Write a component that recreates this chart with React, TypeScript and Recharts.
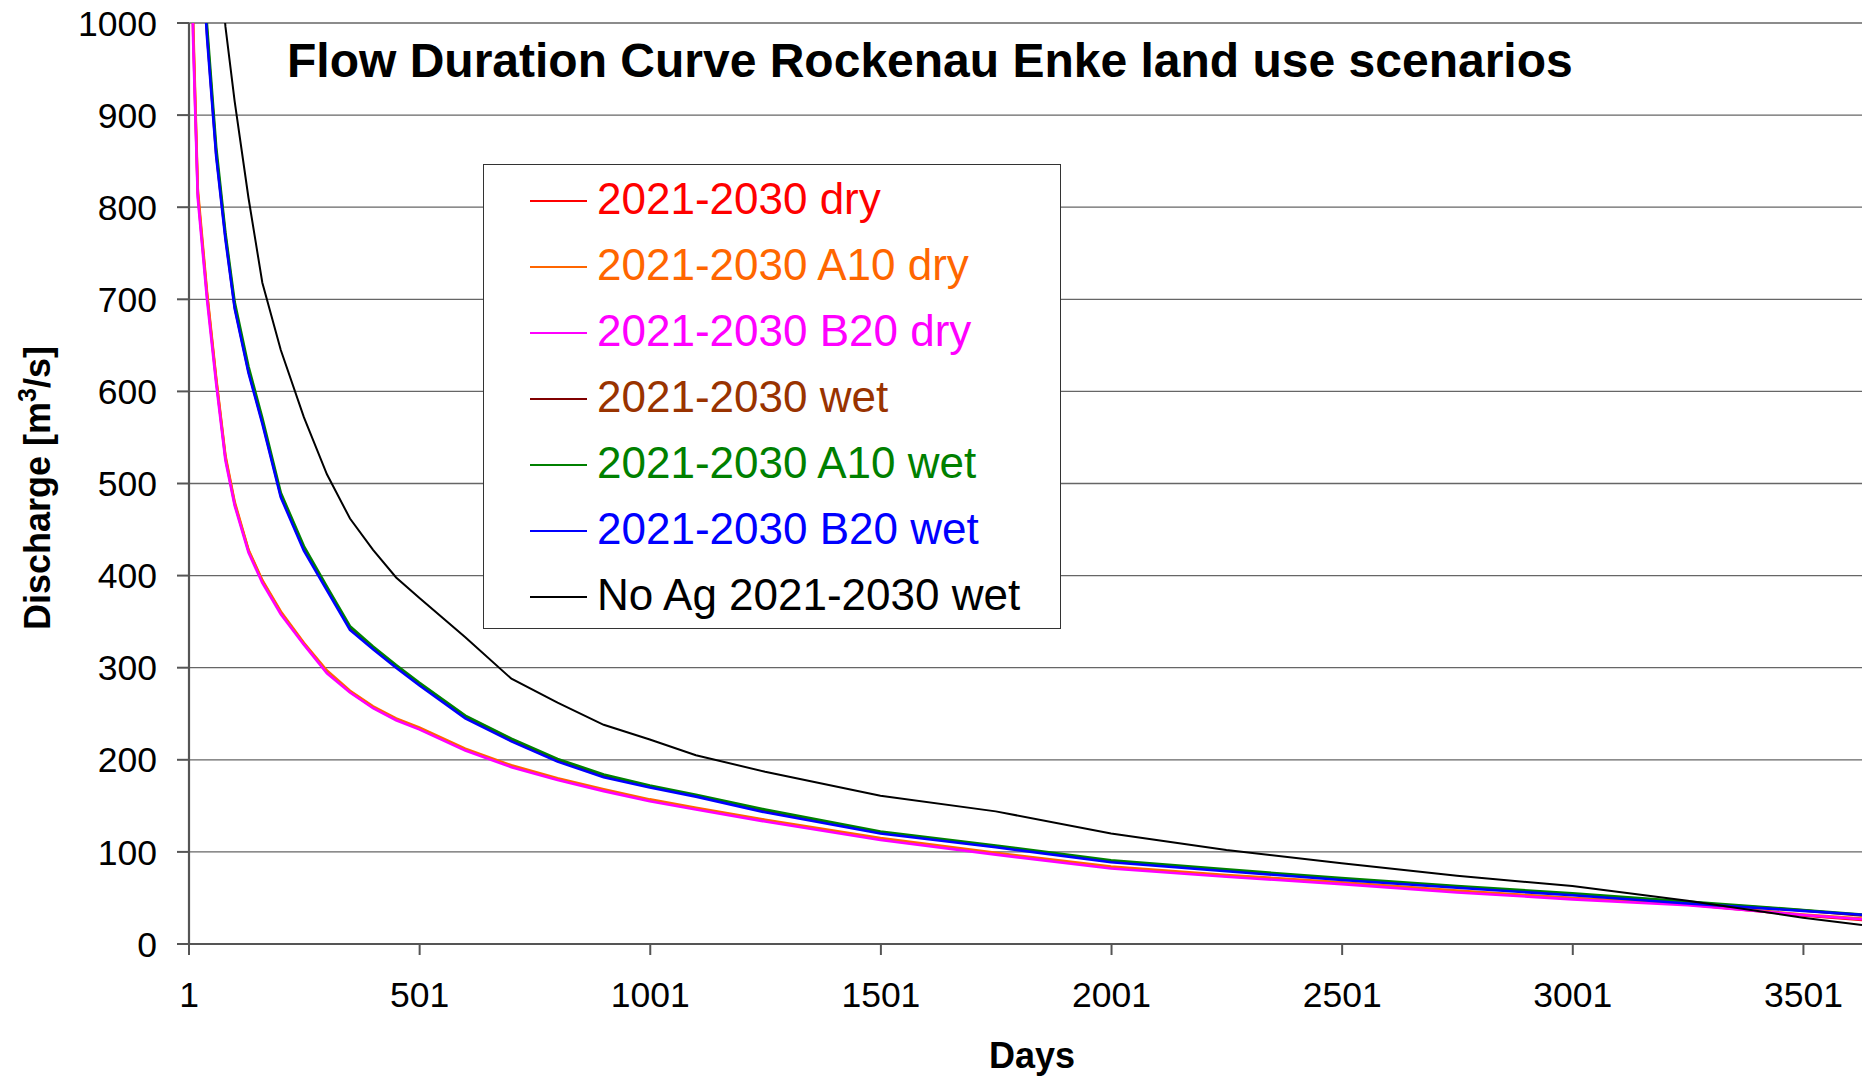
import React from 'react';
import { LineChart, Line, XAxis, YAxis, CartesianGrid, Legend, Customized } from 'recharts';

const days = [1, 10, 20, 40, 60, 80, 100, 130, 160, 200, 250, 300, 350, 400, 450, 500, 600, 700, 800, 900, 1000, 1100, 1250, 1500, 1750, 2000, 2250, 2500, 2750, 3000, 3250, 3500, 3628];

const dry = [1270, 990, 815, 705, 612, 528, 478, 427, 394, 360, 326, 296, 274, 257, 244, 234, 211, 193, 179, 167, 156, 147, 134, 114, 98, 83, 74, 66, 57, 49.5, 43, 31, 26];
const a10Dry = [1290, 1000, 820, 708, 614, 530, 480, 428, 395, 361, 327, 297, 275, 258, 245, 235, 212, 194, 180, 168, 157, 148, 135, 115, 99, 84, 75, 67, 58, 50, 43.5, 32, 27.5];
const b20Dry = [1250, 980, 810, 700, 608, 525, 476, 425, 392, 358, 325, 294, 273, 256, 243, 233, 210, 192, 178, 166, 155, 146, 133, 113, 97, 82, 73, 65, 56, 48.5, 42, 31.5, 26.8];
const wet = [1360, 1255, 1155, 990, 858, 768, 692, 622, 567, 487, 429, 386, 343, 321, 301, 282, 246, 221, 199, 182, 171, 161, 144, 121, 106, 89.5, 80, 70.5, 62, 54, 45, 36.5, 31];
const a10Wet = [1370, 1262, 1162, 998, 865, 772, 697, 627, 571, 490, 432, 388, 345, 323, 303, 284, 248, 223, 201, 184, 172, 162, 146, 122, 107, 91, 81, 71.5, 63, 55, 46, 37, 32];
const b20Wet = [1350, 1250, 1150, 985, 855, 765, 690, 620, 565, 485, 427, 384, 341, 320, 300, 281, 245, 220, 198, 181, 170, 160, 143, 120, 105, 88.7, 79, 69.5, 61, 53, 44, 36, 31.8];
const noAgWet = [1700, 1600, 1500, 1250, 1120, 996, 915, 810, 718, 645, 572, 510, 462, 428, 398, 376, 333, 288, 262, 238, 222, 205, 187, 161, 144, 120, 102, 87.6, 74, 63, 47, 28.6, 20.6];

const seriesKeys = ['dry', 'a10dry', 'b20dry', 'wet', 'a10wet', 'b20wet', 'noag'];
const seriesValues = [dry, a10Dry, b20Dry, wet, a10Wet, b20Wet, noAgWet];
const seriesNames = [
  '2021-2030 dry',
  '2021-2030 A10 dry',
  '2021-2030 B20 dry',
  '2021-2030 wet',
  '2021-2030 A10 wet',
  '2021-2030 B20 wet',
  'No Ag 2021-2030 wet',
];
const lineColors = ['#FF0000', '#FF6600', '#FF00FF', '#800000', '#008000', '#0000FF', '#000000'];
const legendTextColors = ['#FF0000', '#FF6600', '#FF00FF', '#993300', '#008000', '#0000FF', '#000000'];
const lineWidths = [2.6, 2.6, 2.6, 2.6, 2.6, 2.6, 2];

const xTicks = [1, 501, 1001, 1501, 2001, 2501, 3001, 3501];
const yTicks = [0, 100, 200, 300, 400, 500, 600, 700, 800, 900, 1000];

const titleText = 'Flow Duration Curve Rockenau Enke land use scenarios';
const xLabel = 'Days';

const data = days.map((d, i) => {
  const row: Record<string, number> = { day: d };
  seriesKeys.forEach((k, j) => {
    row[k] = seriesValues[j][i];
  });
  return row;
});

const FONT = '"Liberation Sans", Arial, sans-serif';

const Title = () => (
  <text x={287} y={77} fontFamily={FONT} fontSize={48} fontWeight="bold" fill="#000">
    {titleText}
  </text>
);

const YLabel = () => (
  <text
    transform="rotate(-90)"
    x={-488}
    y={50}
    textAnchor="middle"
    fontFamily={FONT}
    fontSize={36}
    fontWeight="bold"
    fill="#000"
  >
    <tspan>Discharge [m</tspan>
    <tspan fontSize={25} dy={-14}>3</tspan>
    <tspan dy={14}>/s]</tspan>
  </text>
);

const XLabel = () => (
  <text x={1032} y={1068} textAnchor="middle" fontFamily={FONT} fontSize={36} fontWeight="bold" fill="#000">
    {xLabel}
  </text>
);

const LegendBox = () => (
  <div
    style={{
      position: 'relative',
      width: 578,
      height: 465,
      boxSizing: 'border-box',
      border: '1.5px solid #333',
      background: '#fff',
      fontFamily: FONT,
    }}
  >
    {seriesNames.map((name, i) => (
      <div
        key={name}
        style={{ position: 'absolute', left: 0, top: 0.5 + 66 * i, height: 66, width: '100%' }}
      >
        <div
          style={{
            position: 'absolute',
            left: 46,
            top: 34,
            width: 57,
            height: 2,
            background: lineColors[i],
          }}
        />
        <div
          style={{
            position: 'absolute',
            left: 113,
            top: 0,
            height: 66,
            lineHeight: '66px',
            fontSize: 44,
            color: legendTextColors[i],
            whiteSpace: 'nowrap',
          }}
        >
          {name}
        </div>
      </div>
    ))}
  </div>
);

export default function App() {
  return (
    <div style={{ position: 'absolute', left: 0, top: 0, width: 1862, height: 1080, background: '#fff' }}>
      <LineChart
        width={1862}
        height={1080}
        data={data}
        margin={{ top: 23, right: 0, bottom: 76, left: 69 }}
      >
        <CartesianGrid vertical={false} stroke="#666" strokeWidth={1.3} />
        <XAxis
          dataKey="day"
          type="number"
          domain={[1, 3628]}
          ticks={xTicks}
          allowDataOverflow
          interval={0}
          height={60}
          tickSize={11}
          tickMargin={27}
          axisLine={{ stroke: '#555', strokeWidth: 2.2 }}
          tickLine={{ stroke: '#555', strokeWidth: 2 }}
          tick={{ fill: '#000', fontSize: 35.5, fontFamily: FONT }}
        />
        <YAxis
          type="number"
          domain={[0, 1000]}
          ticks={yTicks}
          allowDataOverflow
          interval={0}
          width={120}
          tickSize={12}
          tickMargin={20}
          axisLine={{ stroke: '#555', strokeWidth: 2.2 }}
          tickLine={{ stroke: '#555', strokeWidth: 2 }}
          tick={{ fill: '#000', fontSize: 35.5, fontFamily: FONT }}
        />
        {seriesKeys.map((k, i) => (
          <Line
            key={k}
            dataKey={k}
            name={seriesNames[i]}
            type="linear"
            stroke={lineColors[i]}
            strokeWidth={lineWidths[i]}
            dot={false}
            activeDot={false}
            isAnimationActive={false}
          />
        ))}
        <Legend
          layout="vertical"
          align="center"
          verticalAlign="middle"
          content={() => <LegendBox />}
          wrapperStyle={{ left: 483, top: 164, width: 578, height: 465 }}
        />
        <Customized component={Title} />
        <Customized component={YLabel} />
        <Customized component={XLabel} />
      </LineChart>
    </div>
  );
}
